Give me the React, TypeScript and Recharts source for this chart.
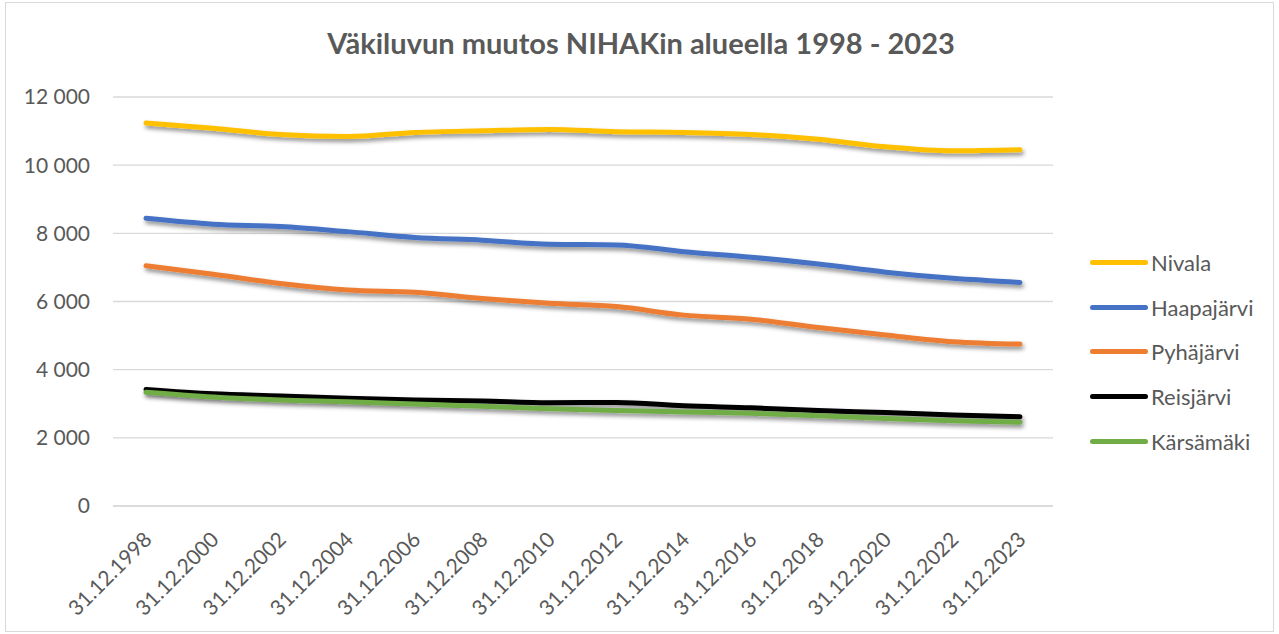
import React from "react";
import { CartesianGrid, Line, LineChart, XAxis, YAxis } from "recharts";

const categories = [
    "31.12.1998", "31.12.2000", "31.12.2002", "31.12.2004", "31.12.2006", "31.12.2008", "31.12.2010",
    "31.12.2012", "31.12.2014", "31.12.2016", "31.12.2018", "31.12.2020", "31.12.2022", "31.12.2023",
];
const nivala = [11240, 11080, 10900, 10840, 10960, 11010, 11050, 10980, 10960, 10900, 10760, 10540, 10420, 10450];
const haapajarvi = [8440, 8270, 8200, 8050, 7880, 7800, 7680, 7660, 7460, 7300, 7100, 6860, 6680, 6560];
const pyhajarvi = [7050, 6800, 6530, 6340, 6270, 6090, 5950, 5850, 5600, 5480, 5240, 5020, 4820, 4750];
const reisjarvi = [3420, 3290, 3230, 3160, 3110, 3080, 3030, 3040, 2940, 2880, 2800, 2740, 2670, 2620];
const karsamaki = [3340, 3200, 3110, 3060, 2990, 2930, 2850, 2800, 2760, 2720, 2650, 2570, 2500, 2460];
const yTicks = [0, 2000, 4000, 6000, 8000, 10000, 12000];

const series = [
    { key: "Nivala", values: nivala, color: "#FFC000" },
    { key: "Haapajärvi", values: haapajarvi, color: "#4472C4" },
    { key: "Pyhäjärvi", values: pyhajarvi, color: "#ED7D31" },
    { key: "Reisjärvi", values: reisjarvi, color: "#000000" },
    { key: "Kärsämäki", values: karsamaki, color: "#70AD47" },
];

const data = categories.map((date, i) => {
    const row: Record<string, string | number> = { date };
    series.forEach((s) => { row[s.key] = s.values[i]; });
    return row;
});

const FONT = "Lato, 'Noto Sans', sans-serif";
const TEXT = "#595959";

const fmt = (v: number) => String(v).replace(/\B(?=(\d{3})+(?!\d))/g, " ");

function XTick(props: any) {
    const { x, y, payload } = props;
    return (
        <g transform={`translate(${x + 7},${y + 35})`}>
            <text textAnchor="end" transform="rotate(-45)" fill={TEXT} fontSize={21} fontFamily={FONT}>
                {payload.value}
            </text>
        </g>
    );
}

// legend drawn as plain html so it does not eat plot space
function LegendBox() {
    return (
        <div style={{ position: "absolute", left: 1090, top: 240, fontFamily: FONT, fontSize: 22, color: TEXT }}>
            {series.map((s) => (
                <div key={s.key} style={{ display: "flex", alignItems: "center", height: 44.7 }}>
                    <span style={{ width: 58, height: 5, borderRadius: 3, background: s.color, marginRight: 3 }} />
                    <span>{s.key}</span>
                </div>
            ))}
        </div>
    );
}

export default function App() {
    return (
        <div style={{ position: "absolute", left: 0, top: 0, width: 1279, height: 634, background: "#fff" }}>
            <div style={{ position: "absolute", left: 5, top: 2, width: 1267, height: 628, border: "1px solid #d9d9d9" }} />
            <div style={{
                position: "absolute", left: 0, top: 25, width: 1282, textAlign: "center",
                fontFamily: FONT, fontWeight: 700, fontSize: 29, color: TEXT,
            }}>
                Väkiluvun muutos NIHAKin alueella 1998 - 2023
            </div>
            <LineChart width={1279} height={634} data={data} margin={{ top: 97, right: 226, bottom: 0, left: 0 }}>
                <defs>
                    <filter id="shadow" x="-5%" y="-50%" width="110%" height="200%">
                        <feDropShadow dx="1.5" dy="3" stdDeviation="2" floodColor="#000" floodOpacity="0.45" />
                    </filter>
                </defs>
                <CartesianGrid vertical={false} stroke="#d9d9d9" strokeWidth={1.3} />
                <XAxis
                    dataKey="date"
                    height={128}
                    interval={0}
                    padding={{ left: 33, right: 33 }}
                    axisLine={{ stroke: "#d9d9d9", strokeWidth: 1.3 }}
                    tickLine={false}
                    tickSize={0}
                    tickMargin={0}
                    tick={<XTick />}
                />
                <YAxis
                    width={113}
                    domain={[0, 12000]}
                    ticks={yTicks}
                    axisLine={false}
                    tickLine={false}
                    tickSize={0}
                    tickMargin={23}
                    tickFormatter={fmt}
                    tick={{ fill: TEXT, fontSize: 21, fontFamily: FONT }}
                />
                {series.map((s) => (
                    <Line
                        key={s.key}
                        type="monotone"
                        dataKey={s.key}
                        stroke={s.color}
                        strokeWidth={5}
                        strokeLinecap="round"
                        dot={false}
                        activeDot={false}
                        filter="url(#shadow)"
                        isAnimationActive={false}
                    />
                ))}
            </LineChart>
            <LegendBox />
        </div>
    );
}
